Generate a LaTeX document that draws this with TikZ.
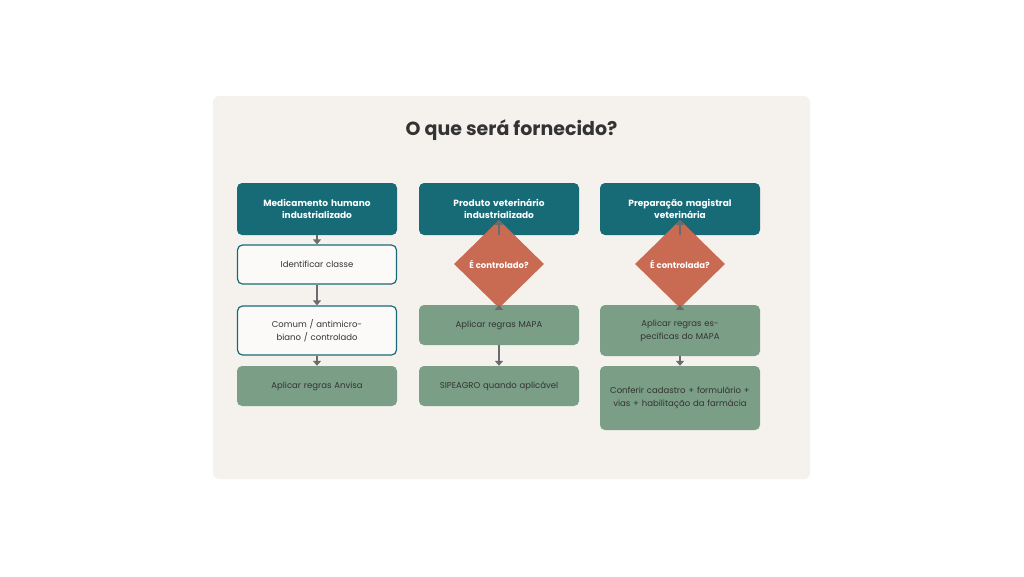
\documentclass[tikz,border=0pt]{standalone}
\usepackage{fontspec}
\setmainfont{Poppins}
\usetikzlibrary{shapes.geometric,arrows.meta}
\definecolor{teal}{HTML}{176B77}
\definecolor{rust}{HTML}{C96A52}
\definecolor{sage}{HTML}{7A9E86}
\definecolor{panel}{HTML}{F5F2EE}
\definecolor{ink}{HTML}{333333}
\definecolor{arr}{HTML}{6B6B6B}
\begin{document}
\begin{tikzpicture}[x=1pt,y=-1pt,
 head/.style={fill=teal,rounded corners=5,minimum width=160,text width=150,align=center,text=white,font=\fontsize{9}{12}\selectfont\bfseries},
 wbox/.style={fill=white!60!panel,draw=teal,line width=1.2,rounded corners=5,minimum width=159,text width=145,align=center,text=ink,font=\fontsize{8.5}{13}\selectfont},
 gbox/.style={fill=sage,rounded corners=5,minimum width=160,text width=150,align=center,text=ink,font=\fontsize{8.5}{13}\selectfont},
 dia/.style={diamond,fill=rust,minimum width=90,minimum height=88,inner sep=0,text=white,font=\fontsize{8.5}{10}\selectfont\bfseries},
 ar/.style={draw=arr,line width=1.8,-{Triangle[length=5,width=8]}}]
\useasboundingbox (0,0) rectangle (1024,576);
\fill[panel,rounded corners=6] (213,96) rectangle (810,479);
\node[font=\fontsize{19}{22}\selectfont\bfseries,text=ink] (t) at (511.5,130) {O que será fornecido?};
% column 1
\node[head,minimum height=52] (h1) at (317,209) {Medicamento humano\\industrializado};
\node[wbox,minimum height=39] (a1) at (317,264.5) {Identificar classe};
\node[wbox,minimum height=49] (b1) at (317,330.5) {Comum / antimicrobiano / controlado};
\node[gbox,minimum height=40] (c1) at (317,386) {Aplicar regras Anvisa};
% column 2
\node[head,minimum height=52] (h2) at (499,209) {Produto veterinário\\industrializado};
\node[gbox,minimum height=40] (b2) at (499,325) {Aplicar regras MAPA};
\node[gbox,minimum height=40] (c2) at (499,386) {SIPEAGRO quando aplicável};
\node[dia] (d2) at (499,264) {É controlado?};
% column 3
\node[head,minimum height=52] (h3) at (680,209) {Preparação magistral\\veterinária};
\node[gbox,minimum height=51] (b3) at (680,330.5) {Aplicar regras específicas do MAPA};
\node[gbox,minimum height=64] (c3) at (680,398) {Conferir cadastro + formulário + vias + habilitação da farmácia};
\node[dia] (d3) at (680,264) {É controlada?};
% arrows
\draw[ar] (h1.south) -- (a1.north);
\draw[ar] (a1.south) -- (b1.north);
\draw[ar] (b1.south) -- (c1.north);
\draw[ar] (h2.south) -- (d2.north);
\draw[ar] (d2.south) -- (b2.north);
\draw[ar] (b2.south) -- (c2.north);
\draw[ar] (h3.south) -- (d3.north);
\draw[ar] (d3.south) -- (b3.north);
\draw[ar] (b3.south) -- (c3.north);
\end{tikzpicture}
\end{document}
